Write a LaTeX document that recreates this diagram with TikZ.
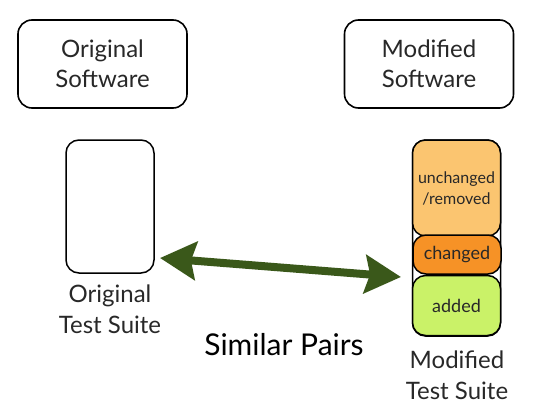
\documentclass[tikz,border=0pt]{standalone}
\usepackage{fontspec}
\setmainfont{Lato}
\usetikzlibrary{arrows.meta}
\definecolor{unch}{RGB}{251,197,112}
\definecolor{chg}{RGB}{246,146,38}
\definecolor{add}{RGB}{202,242,104}
\definecolor{arrowgreen}{RGB}{58,88,26}
\definecolor{txt}{RGB}{40,40,40}
\tikzset{
  swbox/.style={draw=black, line width=1.6pt, rounded corners=14pt, fill=white, minimum width=169pt, minimum height=88pt, align=center, font=\fontsize{24}{30}\selectfont, text=txt, inner sep=0pt},
  suitebox/.style={draw=black, line width=1.5pt, rounded corners=13pt, minimum width=88pt, inner sep=0pt, align=center, font=\fontsize{16}{21}\selectfont, text=txt},
  lbl/.style={align=center, font=\fontsize{24}{31}\selectfont, text=txt, inner sep=0pt},
  biarrow/.style={line width=8pt, draw=arrowgreen, {Stealth[length=36pt,width=38pt,inset=5pt]}-{Stealth[length=36pt,width=38pt,inset=5pt]}}
}
\begin{document}
\begin{tikzpicture}[x=1pt,y=-1pt]
\useasboundingbox (0,0) rectangle (557,412);
\node[swbox] (osw) at (102.5,64) {Original\\Software};
\node[swbox] (msw) at (429,64) {Modified\\Software};
\node[suitebox, fill=white, minimum height=133pt] (otest) at (110,206.5) {};
\node[lbl] (otl) at (110,309) {Original\\Test Suite};
% modified test suite
\node[suitebox, fill=white, minimum height=196pt] (mtest) at (456.5,238) {};
\node[suitebox, fill=unch, minimum height=96pt] (unchb) at (456.5,188) {unchanged\\/removed};
\node[suitebox, fill=chg, minimum height=39pt, font=\fontsize{18}{22}\selectfont] (chgb) at (457,254.5) {changed};
\node[suitebox, fill=add, minimum height=60pt, font=\fontsize{18}{22}\selectfont] (addb) at (456.5,305.5) {added};
\node[lbl] (mtl) at (457,375) {Modified\\Test Suite};
\node[font=\fontsize{30}{34}\selectfont, text=black, inner sep=0pt] (sim) at (284,345) {Similar Pairs};
\coordinate (aL) at (160,258);
\coordinate (aR) at (401,277);
\draw[biarrow] (aL) -- (aR);
\end{tikzpicture}
\end{document}
